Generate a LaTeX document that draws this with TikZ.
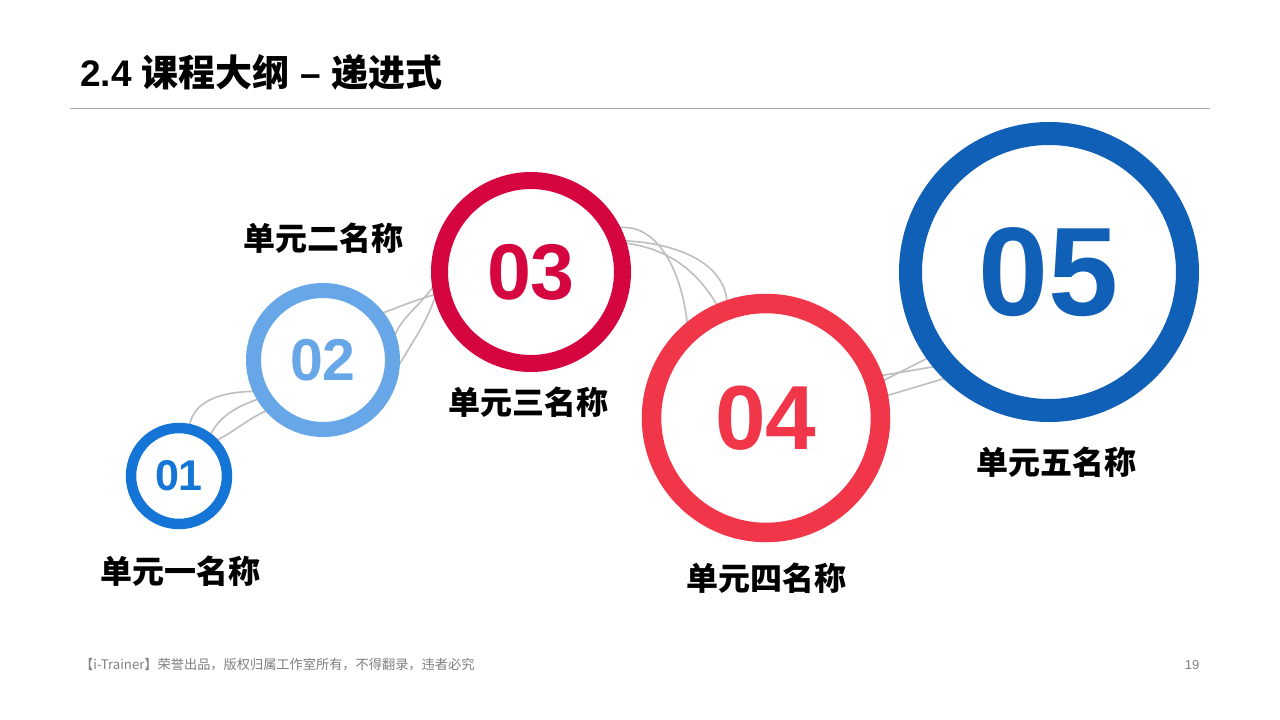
\documentclass[tikz,border=0pt]{standalone}
\usepackage{fontspec}
\setmainfont{Liberation Sans}
\newfontfamily\cjk{Noto Sans CJK SC}
\definecolor{unitone}{RGB}{20,117,214}
\definecolor{unittwo}{RGB}{103,167,232}
\definecolor{unitthree}{RGB}{213,5,64}
\definecolor{unitfour}{RGB}{241,54,73}
\definecolor{unitfive}{RGB}{17,96,183}
\definecolor{wiregray}{RGB}{190,190,190}
\definecolor{footgray}{RGB}{128,128,128}
\begin{document}
\begin{tikzpicture}[x=1pt,y=-1pt,
  slot/.style={circle,inner sep=0pt,outer sep=0pt},
  ring/.style={slot,fill=white,font=\bfseries},
  wire/.style={wiregray,line width=1.6pt},
  unitname/.style={font=\cjk\bfseries\fontsize{32}{36}\selectfont}]
\useasboundingbox (0,0) rectangle (1280,720);
\fill[white] (0,0) rectangle (1280,720);

% Title and rule
\node[anchor=west,inner sep=0pt] (title) at (80,72) {\fontsize{37}{42}\selectfont\bfseries 2.4 {\cjk 课程大纲} – {\cjk 递进式}};
\draw[gray!70,line width=1pt] (70,108) -- (1210,108);

% Circle places (rings are drawn later, over the threads)
\node[slot,minimum size=96pt] (c1) at (179,476) {};
\node[slot,minimum size=139pt] (c2) at (323,360) {};
\node[slot,minimum size=183pt] (c3) at (531,272) {};
\node[slot,minimum size=229pt] (c4) at (766,418) {};
\node[slot,minimum size=277pt] (c5) at (1049,272) {};

% Grey threads between circles
\draw[wire] (c1.78) to[out=85,in=178] (c2.207);
\draw[wire] (c1.52) to[out=65,in=200] (c2.212);
\draw[wire] (c1.45) to[out=25,in=200] (c2.224);
\draw[wire] (c2.40) to[out=20,in=195] (c3.193);
\draw[wire] (c2.12) to[out=75,in=245] (c3.182);
\draw[wire] (c2.-29) to[out=65,in=255] (c3.186);
\draw[wire] (c3.28) to[out=15,in=92] (c4.133);
\draw[wire] (c3.20) to[out=0,in=85] (c4.110);
\draw[wire] (c3.19) to[out=-5,in=118] (c4.113);
\draw[wire] (c4.21) -- (c5.222);
\draw[wire] (c4.17) -- (c5.216);
\draw[wire] (c4.10) -- (c5.228);

% Rings with numbers
\node[ring,draw=unitone,line width=10.5pt,minimum size=96pt,text=unitone] (r1) at (c1) {\fontsize{43}{48}\selectfont 01};
\node[ring,draw=unittwo,line width=15pt,minimum size=139pt,text=unittwo] (r2) at (c2) {\fontsize{59}{64}\selectfont 02};
\node[ring,draw=unitthree,line width=17pt,minimum size=183pt,text=unitthree] (r3) at (c3) {\fontsize{79}{84}\selectfont 03};
\node[ring,draw=unitfour,line width=19.5pt,minimum size=229pt,text=unitfour] (r4) at (c4) {\fontsize{91}{96}\selectfont 04};
\node[ring,draw=unitfive,line width=23pt,minimum size=277pt,text=unitfive] (r5) at (c5) {\fontsize{126}{130}\selectfont 05};

% Unit names
\node[unitname] (n1) at (180,571) {单元一名称};
\node[unitname] (n2) at (323,238) {单元二名称};
\node[unitname] (n3) at (528,402) {单元三名称};
\node[unitname] (n4) at (766,578) {单元四名称};
\node[unitname] (n5) at (1056,462) {单元五名称};

% Footer
\node[anchor=west,inner sep=0pt,text=footgray,font=\cjk\fontsize{13.2}{15}\selectfont] (foot) at (80,665) {【i-Trainer】荣誉出品，版权归属工作室所有，不得翻录，违者必究};
\node[inner sep=0pt,text=footgray,font=\fontsize{13}{15}\selectfont] (page) at (1192,665) {19};
\end{tikzpicture}
\end{document}
